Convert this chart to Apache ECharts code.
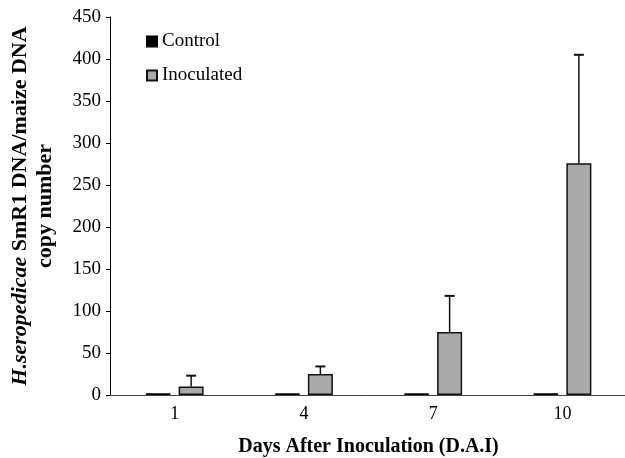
<!DOCTYPE html>
<html>
<head>
<meta charset="utf-8">
<script src="https://cdn.jsdelivr.net/npm/echarts@6/dist/echarts.min.js"></script>
<style>
html,body{margin:0;padding:0;background:#fff;}
#chart{width:625px;height:458px;}
</style>
</head>
<body>
<div id="chart"></div>
<script>
// data
var days = ['1', '4', '7', '10'];
var control = [2, 2, 2, 2];
var inoculated = [10, 25, 75, 276];
var inocErr = [13, 9, 43, 129];
var yTicks = [0, 50, 100, 150, 200, 250, 300, 350, 400, 450];

var serif = '"Liberation Serif", "DejaVu Serif", serif';

var errData = [];
for (var i = 0; i < days.length; i++) {
	errData.push([i, inoculated[i], inoculated[i] + inocErr[i]]);
}

var myChart = echarts.init(document.getElementById('chart'));
var option = {
	animation: false,
	backgroundColor: '#fff',
	grid: { left: 110, top: 17, bottom: 63, width: 517, outerBoundsMode: 'none', containLabel: false },
	legend: {
		orient: 'vertical',
		left: 141, top: 27,
		itemWidth: 10, itemHeight: 10,
		itemGap: 15,
		icon: 'rect',
		textStyle: { fontFamily: serif, fontSize: 19, color: '#000' },
		data: ['Control', 'Inoculated']
	},
	xAxis: {
		type: 'category',
		data: days,
		axisLine: { lineStyle: { color: '#444', width: 1 } },
		axisTick: { show: false },
		axisLabel: { fontFamily: serif, fontSize: 18, color: '#000', margin: 10 },
		name: 'Days After Inoculation (D.A.I)',
		nameLocation: 'middle',
		nameGap: 42,
		nameMoveOverlap: false,
		nameTextStyle: { fontFamily: serif, fontSize: 20, fontWeight: 'bold', color: '#000' }
	},
	yAxis: {
		type: 'value',
		min: 0, max: 450, interval: 50,
		splitLine: { show: false },
		axisLine: { show: true, lineStyle: { color: '#000', width: 1 } },
		axisTick: { show: true, length: 4, lineStyle: { color: '#000' } },
		axisLabel: { fontFamily: serif, fontSize: 19, color: '#000', margin: 9 },
		name: '{i|H.seropedicae} SmR1 DNA/maize DNA\ncopy number',
		nameLocation: 'middle',
		nameGap: 52,
		nameMoveOverlap: false,
		nameTextStyle: {
			fontFamily: serif, fontSize: 22, fontWeight: 'bold', color: '#000', lineHeight: 25,
			rich: {
				i: { fontFamily: serif, fontSize: 22, fontWeight: 'bold', fontStyle: 'italic', color: '#000', lineHeight: 25 }
			}
		}
	},
	series: [
		{
			name: 'Control',
			type: 'bar',
			data: control,
			barWidth: 25,
			barGap: '32%',
			itemStyle: { color: '#000', borderColor: '#000', borderWidth: 1 }
		},
		{
			name: 'Inoculated',
			type: 'bar',
			data: inoculated,
			barWidth: 25,
			itemStyle: { color: '#aaaaaa', borderColor: '#111', borderWidth: 1.5 }
		},
		{
			name: 'err',
			type: 'custom',
			data: errData,
			z: 1,
			renderItem: function (params, api) {
				var lo = api.coord([api.value(0), api.value(1)]);
				var hi = api.coord([api.value(0), api.value(2)]);
				var x = lo[0] + 16.5;
				return {
					type: 'group',
					children: [
						{ type: 'line', shape: { x1: x, y1: lo[1], x2: x, y2: hi[1] }, style: { stroke: '#111', lineWidth: 1.5 } },
						{ type: 'line', shape: { x1: x - 5, y1: hi[1], x2: x + 5, y2: hi[1] }, style: { stroke: '#111', lineWidth: 2 } }
					]
				};
			}
		}
	]
};
myChart.setOption(option);
</script>
</body>
</html>
